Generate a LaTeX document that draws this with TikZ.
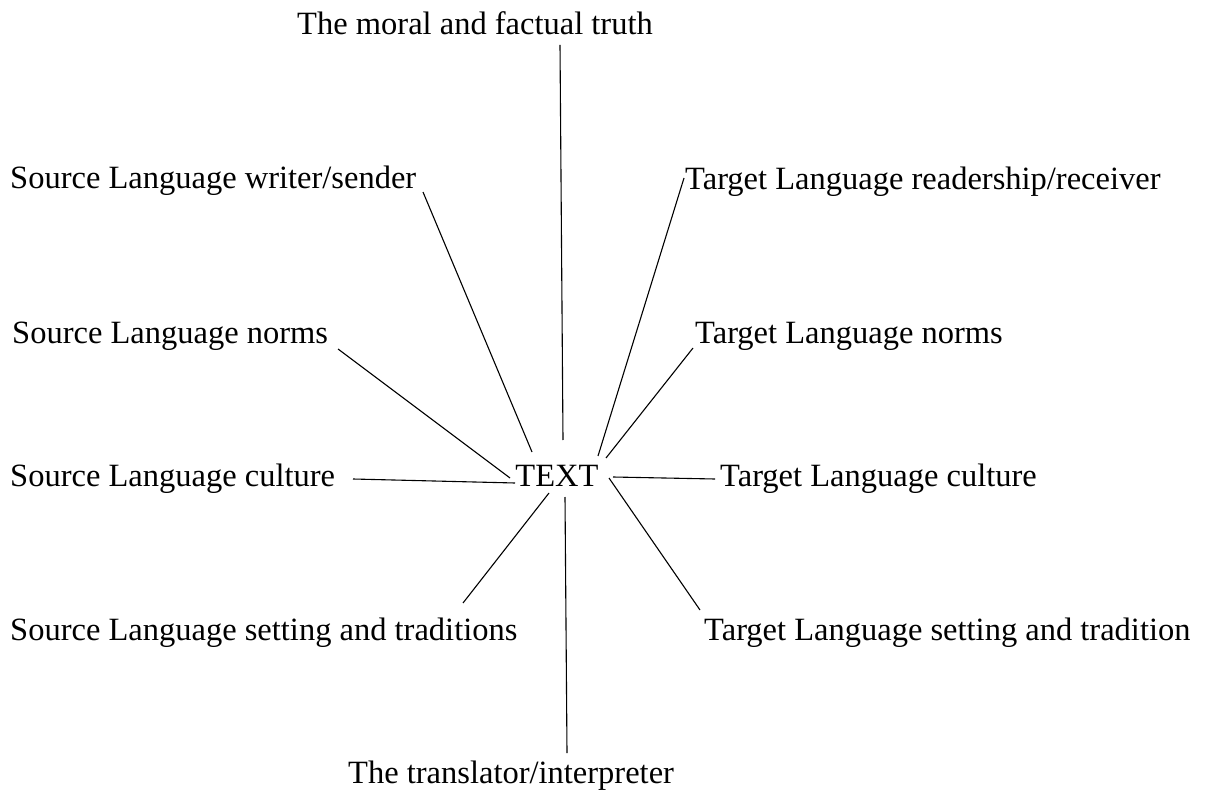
\documentclass[tikz,border=0pt]{standalone}
\usepackage{fontspec}
\setmainfont{Liberation Serif}
\begin{document}
\begin{tikzpicture}[x=1pt,y=-1pt,
  lab/.style={inner sep=0pt,font=\fontsize{32.5}{36}\selectfont},
  conn/.style={line width=1.1pt,black}]
\useasboundingbox (0,0) rectangle (1212,791);
% labels
\node[lab,anchor=base] (truth) at (475,35) {The moral and factual truth};
\node[lab,anchor=base west] (sw) at (10,189) {Source Language writer/sender};
\node[lab,anchor=base west] (tr) at (685,190) {Target Language readership/receiver};
\node[lab,anchor=base west] (sn) at (12,344) {Source Language norms};
\node[lab,anchor=base west] (tn) at (695,344) {Target Language norms};
\node[lab,anchor=base west] (sc) at (10,486) {Source Language culture};
\node[lab,anchor=base] (T) at (557,486) {TEXT};
\node[lab,anchor=base west] (tc) at (720,486) {Target Language culture};
\node[lab,anchor=base west] (ss) at (10,640) {Source Language setting and traditions};
\node[lab,anchor=base west] (ts) at (704,640) {Target Language setting and tradition};
\node[lab,anchor=base west] (tl) at (348,783) {The translator/interpreter};
% connector ends
\coordinate (truthE) at (560,45);   \coordinate (truthT) at (563,440);
\coordinate (swE) at (423,192);     \coordinate (swT) at (532,452);
\coordinate (trE) at (684,178);     \coordinate (trT) at (598,456);
\coordinate (snE) at (338,349);     \coordinate (snT) at (510,478);
\coordinate (tnE) at (693,348);     \coordinate (tnT) at (606,458);
\coordinate (scE) at (353,479);     \coordinate (scT) at (515,483);
\coordinate (tcE) at (715,479);     \coordinate (tcT) at (613,477);
\coordinate (ssE) at (463,603);     \coordinate (ssT) at (549,493);
\coordinate (tsE) at (700,610);     \coordinate (tsT) at (609,478);
\coordinate (tlE) at (567,753);     \coordinate (tlT) at (565,497);
% connectors
\draw[conn] (truthE) -- (truthT);
\draw[conn] (swE) -- (swT);
\draw[conn] (trE) -- (trT);
\draw[conn] (snE) -- (snT);
\draw[conn] (tnE) -- (tnT);
\draw[conn] (scE) -- (scT);
\draw[conn] (tcE) -- (tcT);
\draw[conn] (ssE) -- (ssT);
\draw[conn] (tsE) -- (tsT);
\draw[conn] (tlE) -- (tlT);
\end{tikzpicture}
\end{document}
